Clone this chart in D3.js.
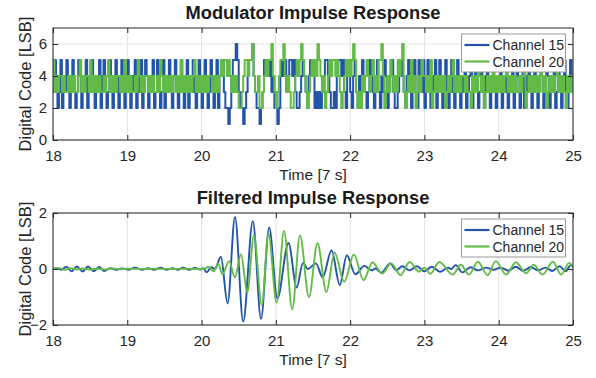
<!DOCTYPE html>
<html><head><meta charset="utf-8">
<script src="https://cdn.jsdelivr.net/npm/d3@7"></script>
<style>body{margin:0;background:#fff}text{font-family:"Liberation Sans",Arial,Helvetica,sans-serif}</style>
</head><body>
<svg id="c" width="596" height="378"></svg>
<script>
// ---------- tick labels / names ----------
const xTicks = [18,19,20,21,22,23,24,25];
const topYTicks = [0,2,4,6];
const botYTicks = [-2,0,2];
const seriesNames = ["Channel 15","Channel 20"];
const titles = ["Modulator Impulse Response","Filtered Impulse Response"];
const xLabelText = "Time [7 s]";
const yLabelText = "Digital Code [LSB]";
const segStarts = [18,19,20,21,22,23,24];

// ---------- modulator output, Channel 15 (one array per second, 0.02 s samples) ----------
const mod15_18 = [3,5,4,2,3,5,2,4,3,5, 3,2,4,5,3,2,3,5,4,2, 4,3,5,2,3,4,5,3,2,4, 3,5,2,4,5,3,2,3,5,4, 2,3,5,4,2,3,5,3,2,4];
const mod15_19 = [5,3,2,4,3,5,2,3,4,5, 2,3,5,4,2,4,3,5,2,3, 5,4,2,3,5,2,4,3,5,3, 2,4,5,3,2,3,5,4,2,3, 5,2,4,3,5,3,2,4,5,3];
const mod15_20 = [2,4,5,3,2,3,5,4,2,3, 5,2,4,5,5,3,2,2,1,2, 4,5,5,6,5,3,2,2,1,2, 3,4,5,5,6,4,3,2,2,1, 2,3,5,4,5,4,5,3,4,2];
const mod15_21 = [3,1,2,4,5,4,5,3,4,5, 5,4,5,3,2,2,3,4,5,4, 3,2,4,5,5,4,2,3,2,3, 2,3,4,5,5,4,3,2,2,3, 2,4,5,5,4,5,3,2,4,5];
const mod15_22 = [3,2,4,5,3,2,4,3,5,4, 3,2,3,5,4,3,2,4,5,3, 2,4,3,5,4,2,3,4,5,3, 2,2,3,4,5,4,3,2,4,5, 3,2,4,5,3,2,5,4,3,5];
const mod15_23 = [2,4,5,3,2,4,3,5,2,3, 5,4,2,3,5,3,2,4,5,3, 2,3,5,4,2,4,3,5,2,3, 4,5,2,3,5,4,2,3,5,3, 2,4,5,3,2,3,5,4,2,4];
const mod15_24 = [3,5,2,4,3,5,2,3,4,5, 2,3,5,4,2,3,5,2,4,3, 5,3,2,4,5,3,2,3,5,4, 2,3,5,4,2,4,3,5,2,3, 5,4,2,3,5,3,2,4,5,3];
const mod15_end = 3;

// ---------- modulator output, Channel 20 ----------
const mod20_18 = [5,3,4,3,4,4,3,4,3,3, 4,3,4,3,4,3,3,4,5,3, 4,3,4,4,3,5,3,4,3,4, 3,4,3,3,4,3,4,5,3,4, 3,4,3,4,4,3,4,3,5,3];
const mod20_19 = [4,3,4,3,3,4,3,5,4,3, 4,3,4,4,3,4,3,4,3,3, 4,3,5,4,3,4,3,4,3,4, 3,4,4,3,4,3,5,3,4,3, 4,3,4,3,4,5,3,4,3,4];
const mod20_20 = [3,4,3,4,3,4,4,3,4,3, 4,3,4,5,4,5,5,4,5,4, 3,4,3,4,3,2,2,3,4,5, 5,4,5,5,6,4,3,3,4,2, 2,3,4,5,4,5,5,6,4,3];
const mod20_21 = [2,3,4,5,5,6,4,3,4,3, 2,2,3,4,5,4,5,6,5,4, 3,2,3,4,5,4,5,4,6,5, 4,3,4,2,3,4,5,4,5,5, 4,5,4,3,2,3,4,5,4,5];
const mod20_22 = [4,5,6,5,3,2,3,2,4,3, 4,5,4,3,4,5,3,4,3,5, 5,6,4,2,3,4,3,5,4,3, 4,3,5,4,5,6,3,2,3,4, 3,5,3,4,2,3,4,3,5,4];
const mod20_23 = [4,3,4,3,5,2,3,4,3,4, 3,4,3,4,2,3,4,3,4,5, 3,4,3,4,3,4,4,3,4,3, 3,2,4,3,4,3,5,4,3,4, 2,3,4,3,4,3,5,3,4,3];
const mod20_24 = [4,3,4,3,4,5,3,4,3,4, 3,4,3,3,4,3,4,5,2,3, 4,3,4,3,4,3,4,3,5,4, 3,4,2,3,4,3,4,3,4,5, 3,4,3,4,3,2,4,3,4,3];
const mod20_end = 3;

// ---------- filtered response: turning points ----------
const filt15Time = [18.00,18.05,18.11,18.18,18.25,18.32,18.40,18.47,18.55,18.62,18.69,18.77,18.85,18.93,19.02,19.10,19.20,19.28,19.36,19.45,19.53,19.61,19.68,19.75,19.83,19.91,19.98,20.02,20.07,20.13,20.18,20.26,20.35,20.45,20.56,20.69,20.80,20.91,21.02,21.17,21.28,21.365,21.43,21.54,21.63,21.75,21.86,21.955,22.07,22.19,22.29,22.34,22.42,22.54,22.62,22.70,22.80,22.90,23.00,23.10,23.21,23.32,23.36,23.42,23.51,23.62,23.72,23.83,23.93,24.03,24.13,24.23,24.33,24.43,24.53,24.63,24.72,24.82,24.90,24.97,25.00];
const filt15Value = [0.00,0.03,-0.03,0.08,-0.08,0.09,-0.09,0.09,-0.08,0.07,-0.07,0.03,-0.03,0.02,-0.03,0.05,-0.03,0.03,-0.03,0.05,-0.03,0.03,-0.03,0.05,-0.03,0.04,-0.02,0.03,-0.12,0.06,0.00,0.44,-1.23,1.86,-1.88,1.71,-1.78,1.48,-1.05,0.93,-0.66,0.22,0.00,0.20,-0.30,0.67,-0.57,0.49,-0.19,0.11,-0.05,0.02,-0.13,0.20,-0.05,0.10,-0.05,0.10,-0.08,0.08,-0.10,0.05,0.00,0.14,-0.12,0.06,-0.05,0.05,-0.03,0.05,-0.06,0.08,-0.07,0.07,-0.05,0.05,-0.07,0.10,-0.08,0.14,0.10];
const filt20Time = [18.00,18.08,18.16,18.24,18.32,18.40,18.50,18.60,18.70,18.80,18.90,19.00,19.20,19.40,19.60,19.80,19.95,20.05,20.09,20.16,20.225,20.28,20.37,20.45,20.53,20.615,20.705,20.81,20.90,21.01,21.11,21.22,21.325,21.445,21.56,21.68,21.79,21.92,22.05,22.18,22.30,22.43,22.55,22.68,22.80,22.93,23.00,23.08,23.20,23.38,23.49,23.60,23.72,23.85,23.96,24.10,24.23,24.37,24.47,24.59,24.73,24.84,24.95,25.00];
const filt20Value = [0.00,0.03,-0.03,0.03,-0.02,0.02,-0.02,0.02,-0.02,0.02,-0.01,0.01,0.00,0.01,0.00,0.01,0.00,0.02,0.08,-0.08,0.20,-0.19,0.28,-0.30,0.53,-0.83,1.20,-1.29,1.27,-1.20,1.36,-1.44,1.20,-1.00,0.92,-0.82,0.58,-0.46,0.52,-0.40,0.23,-0.16,0.20,-0.22,0.25,-0.10,0.05,-0.17,0.25,-0.20,0.15,-0.20,0.26,-0.22,0.28,-0.20,0.24,-0.15,0.15,-0.20,0.26,-0.20,0.22,0.05];

// ---------- assemble ----------
function assemble(segs, last){
  const pts = [];
  segs.forEach((arr,k)=>{ const s = segStarts[k]; arr.forEach((v,j)=>pts.push([s + j/arr.length, v])); });
  pts.push([25, last]);
  return pts;
}
const mod15 = assemble([mod15_18,mod15_19,mod15_20,mod15_21,mod15_22,mod15_23,mod15_24], mod15_end);
const mod20 = assemble([mod20_18,mod20_19,mod20_20,mod20_21,mod20_22,mod20_23,mod20_24], mod20_end);
const filt15 = filt15Time.map((t,i)=>[t, filt15Value[i]]);
const filt20 = filt20Time.map((t,i)=>[t, filt20Value[i]]);

const colors = ["#2255aa","#63bb47"];
const axisColor = "#262626";
const gridColor = "#e1e1e1";

const svg = d3.select("#c");
const L = 53, R = 573;
const x = d3.scaleLinear().domain([18,25]).range([L,R]);

function panel(cfg){
  const {top, bottom, ydom, yticks, title, titleY, data, curve, lw} = cfg;
  const y = d3.scaleLinear().domain(ydom).range([bottom, top]);
  const g = svg.append("g");
  // grid
  g.selectAll(".gx").data(xTicks).join("line")
    .attr("x1",d=>x(d)).attr("x2",d=>x(d)).attr("y1",top).attr("y2",bottom)
    .attr("stroke",gridColor).attr("stroke-width",1);
  g.selectAll(".gy").data(yticks).join("line")
    .attr("x1",L).attr("x2",R).attr("y1",d=>y(d)).attr("y2",d=>y(d))
    .attr("stroke",gridColor).attr("stroke-width",1);
  // data
  const clipId = "clip"+top;
  svg.append("clipPath").attr("id",clipId).append("rect").attr("x",L).attr("y",top).attr("width",R-L).attr("height",bottom-top);
  const line = d3.line().x(d=>x(d[0])).y(d=>y(d[1])).curve(curve);
  data.forEach((d,i)=>{
    g.append("path").datum(d).attr("d",line).attr("fill","none")
      .attr("stroke",colors[i]).attr("stroke-width",lw).attr("stroke-linejoin","round")
      .attr("clip-path",`url(#${clipId})`);
  });
  // axes
  const ax = [
    g.append("g").attr("transform",`translate(0,${bottom})`).call(d3.axisBottom(x).tickValues(xTicks).tickSize(-5).tickPadding(10).tickFormat(d3.format("d"))),
    g.append("g").attr("transform",`translate(0,${top})`).call(d3.axisTop(x).tickValues(xTicks).tickSize(-5).tickFormat("")),
    g.append("g").attr("transform",`translate(${L},0)`).call(d3.axisLeft(y).tickValues(yticks).tickSize(-5).tickPadding(6).tickFormat(d3.format("d"))),
    g.append("g").attr("transform",`translate(${R},0)`).call(d3.axisRight(y).tickValues(yticks).tickSize(-5).tickFormat(""))
  ];
  ax.forEach(a=>{
    a.select(".domain").remove();
    a.selectAll("line").attr("stroke",axisColor);
    a.selectAll("text").attr("fill",axisColor).style("font-size","15px").style("font-family",'"Liberation Sans",Arial,sans-serif');
  });
  g.append("rect").attr("x",L).attr("y",top).attr("width",R-L).attr("height",bottom-top)
    .attr("fill","none").attr("stroke",axisColor).attr("stroke-width",1);
  // title
  g.append("text").attr("x",(L+R)/2).attr("y",titleY).attr("text-anchor","middle")
    .style("font-size","18.3px").style("font-weight","bold").attr("fill","#1a1a1a").text(title);
  // labels
  g.append("text").attr("x",(L+R)/2).attr("y",bottom+40).attr("text-anchor","middle")
    .style("font-size","15.5px").attr("fill",axisColor).text(xLabelText);
  g.append("text").attr("transform",`translate(31,${(top+bottom)/2}) rotate(-90)`).attr("text-anchor","middle")
    .style("font-size","16.5px").attr("fill",axisColor).text(yLabelText);
  // legend
  const lx = 461.5, ly = top+6, lwid = 104, lh = 38;
  const lg = g.append("g");
  lg.append("rect").attr("x",lx).attr("y",ly).attr("width",lwid).attr("height",lh)
    .attr("fill","#fff").attr("stroke","#9a9a9a").attr("stroke-width",1);
  seriesNames.forEach((n,i)=>{
    const yy = ly + 11 + i*16.5;
    lg.append("line").attr("x1",lx+3).attr("x2",lx+28).attr("y1",yy).attr("y2",yy)
      .attr("stroke",colors[i]).attr("stroke-width",2.2);
    lg.append("text").attr("x",lx+31).attr("y",yy+5).style("font-size","14px").attr("fill",axisColor).text(n);
  });
}

panel({top:28, bottom:140, ydom:[0,7], yticks:topYTicks, title:titles[0], titleY:18.5, data:[mod15,mod20], curve:d3.curveStepAfter, lw:2});
panel({top:213, bottom:325, ydom:[-2,2], yticks:botYTicks, title:titles[1], titleY:204, data:[filt15,filt20], curve:d3.curveMonotoneX, lw:1.9});
</script>
</body></html>
